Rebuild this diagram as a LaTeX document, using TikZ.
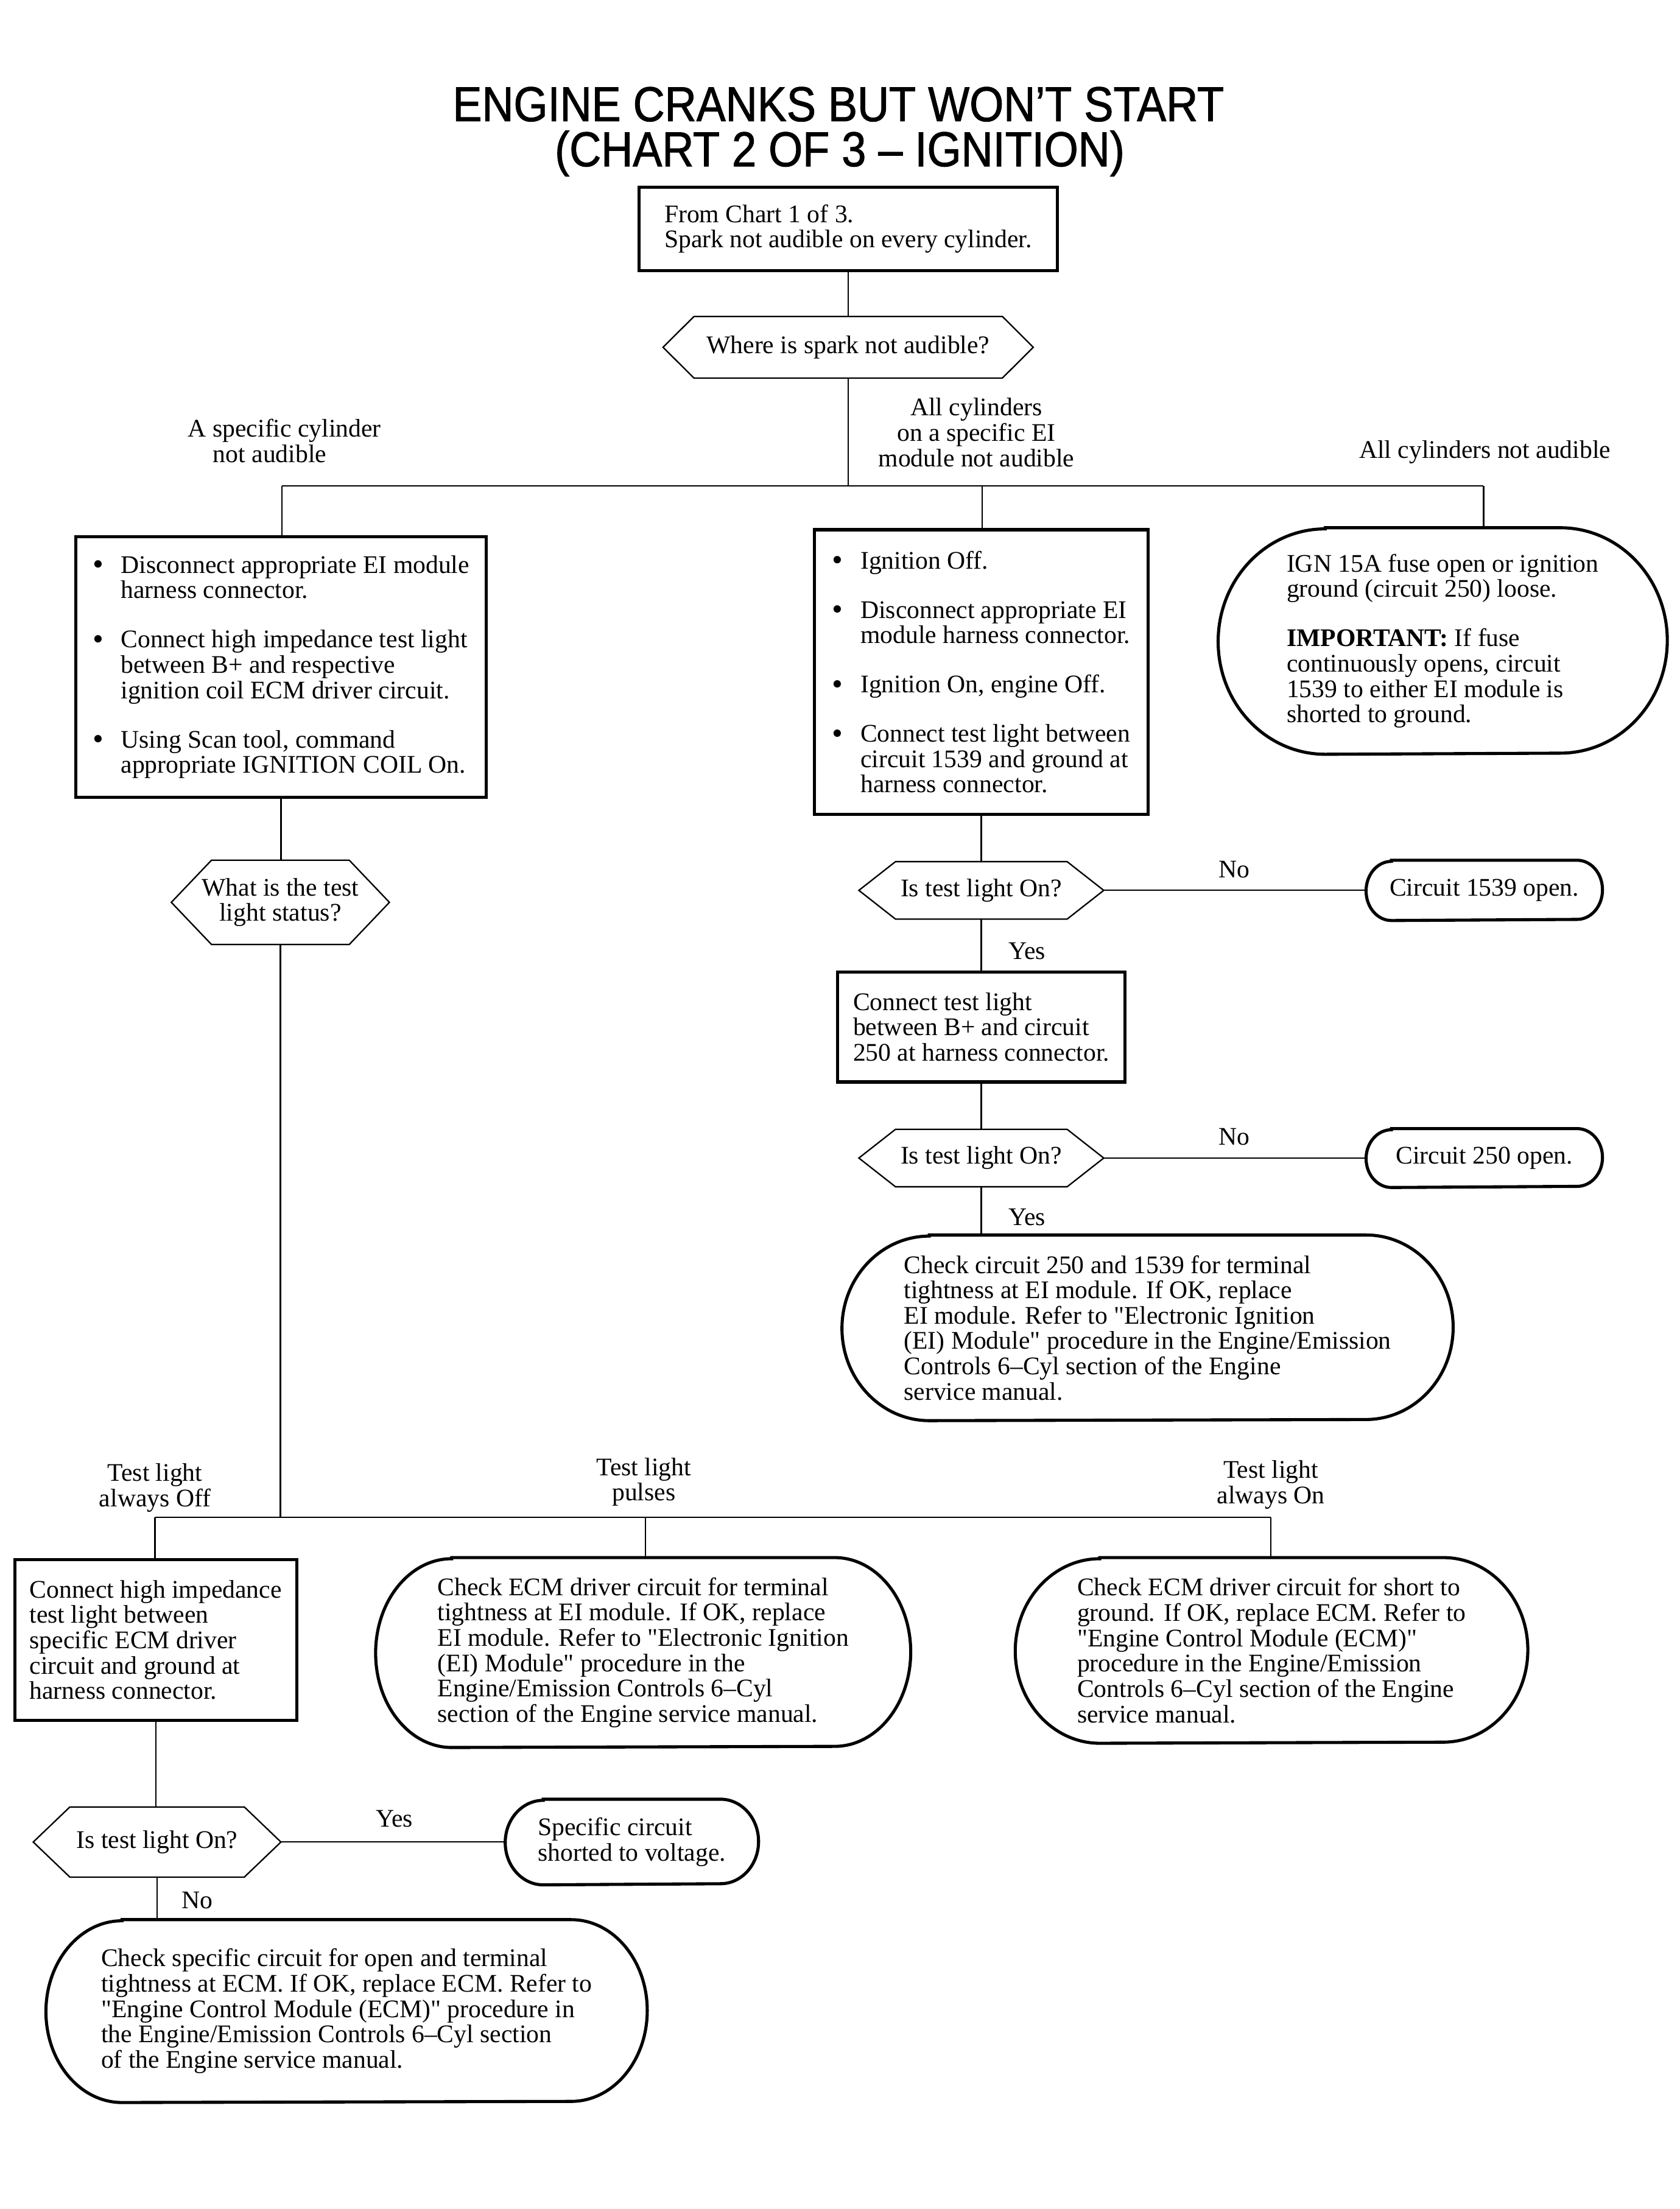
\documentclass[tikz,border=0pt]{standalone}
\usepackage{fontspec}
\newfontfamily\bodyfont{Liberation Serif}
\newfontfamily\titlefont{Liberation Sans}[FakeStretch=0.895,FakeBold=1.2]
\usetikzlibrary{calc}
% capsule outline drawn inside a node's box: node, x radius, y radius
\newcommand\capsule[3]{%
  \draw[termline] ([xshift=#2]#1.north west) -- ([xshift=-#2]#1.north east)
    arc[start angle=90,end angle=-90,x radius=#2,y radius=#3]
    -- ([xshift=#2]#1.south west)
    arc[start angle=270,end angle=90,x radius=#2,y radius=#3] -- cycle;}
% hexagon outline drawn inside a node's box: node, tip length
\newcommand\hexa[2]{%
  \draw[decline] ([xshift=#2]#1.north west) -- ([xshift=-#2]#1.north east)
    -- (#1.east) -- ([xshift=-#2]#1.south east) -- ([xshift=#2]#1.south west)
    -- (#1.west) -- cycle;}
\newcommand\bitem{\makebox[10pt][l]{\raisebox{-0.5pt}{\fontsize{11}{9}\selectfont\symbol{"2022}}}}
\newcommand\bcont{\hspace*{10pt}}
\begin{document}
\begin{tikzpicture}[x=0.5pt,y=-0.5pt,
  every node/.style={font=\bodyfont\fontsize{9}{9}\selectfont, inner sep=0pt},
  title/.style={font=\titlefont\fontsize{17.4}{17.4}\selectfont},
  rbox/.style={draw, line width=1.1pt, align=left},
  term/.style={align=left},
  dec/.style={align=center},
  lbl/.style={align=center},
  sz/.style 2 args={minimum width=#1, minimum height=#2},
  conn/.style={line width=0.5pt},
  termline/.style={line width=1.1pt},
  decline/.style={line width=0.5pt},
]
\useasboundingbox (0,0) rectangle (1192,1568);
\fill[white] (0,0) rectangle (1192,1568);

% title
\node[title, anchor=base] (t1) at (595,86) {ENGINE CRANKS BUT WON’T START};
\node[title, anchor=base] (t2) at (596,118) {(CHART 2 OF 3 – IGNITION)};

% top
\node[rbox, sz={148.5pt}{29.5pt}] (start) at (602,162.5) {From Chart 1 of 3.\\Spark not audible on every cylinder.};
\node[dec, sz={131pt}{21.5pt}] (hex1) at (602,246.5) {Where is spark not audible?};
\hexa{hex1}{11pt}

\coordinate (j1) at (602,345);
\coordinate (jA) at (200,345);
\coordinate (jB) at (697,345);
\coordinate (jC) at (1053,345);

\node[lbl] (lA) at (202,313) {A specific cylinder\\not audible\hspace*{10.5pt}};
\node[lbl] (lB) at (693,307) {All cylinders\\on a specific EI\\module not audible};
\node[lbl] (lC) at (1054,321) {All cylinders not audible};

% second row
\node[rbox, sz={145.5pt}{92.5pt}] (boxA) at (199.5,473.5) {\bitem Disconnect appropriate EI module\\\bcont harness connector.\\[8.5pt]\bitem Connect high impedance test light\\\bcont between B+ and respective\\\bcont ignition coil ECM driver circuit.\\[8.5pt]\bitem Using Scan tool, command\\\bcont appropriate IGNITION COIL On.};

\node[rbox, sz={118.5pt}{101pt}] (boxB) at (696.5,477) {\bitem Ignition Off.\\[8.5pt]\bitem Disconnect appropriate EI\\\bcont module harness connector.\\[8.5pt]\bitem Ignition On, engine Off.\\[8.5pt]\bitem Connect test light between\\\bcont circuit 1539 and ground at\\\bcont harness connector.};

\node[term, sz={159pt}{80pt}] (ign) at (1024,455) {IGN 15A fuse open or ignition\\ground (circuit 250) loose.\\[8.5pt]\textbf{IMPORTANT:} If fuse\\continuously opens, circuit\\1539 to either EI module is\\shorted to ground.};
\capsule{ign}{38pt}{40pt}

% left branch decision
\node[dec, sz={77pt}{29.5pt}] (hexA) at (199,640.5) {What is the test\\light status?};
\hexa{hexA}{14.25pt}

% middle branch
\node[dec, sz={86.5pt}{20pt}] (hexB1) at (696.5,632) {Is test light On?};
\hexa{hexB1}{13pt}
\node[term, sz={83.5pt}{21pt}] (t1539) at (1053.5,632) {Circuit 1539 open.};
\capsule{t1539}{9pt}{10.5pt}
\node[lbl] (no1) at (876,617) {No};
\node[lbl] (yes1) at (729,675) {Yes};

\node[rbox, sz={102pt}{39pt}] (boxC) at (696.5,729) {Connect test light\\between B+ and circuit\\250 at harness connector.};

\node[dec, sz={86.5pt}{20pt}] (hexB2) at (696.5,822) {Is test light On?};
\hexa{hexB2}{13pt}
\node[term, sz={83.5pt}{20.5pt}] (t250) at (1053.5,822) {Circuit 250 open.};
\capsule{t250}{9pt}{10.25pt}
\node[lbl] (no2) at (876,807) {No};
\node[lbl] (yes2) at (729,864) {Yes};

\node[term, sz={216.5pt}{65.5pt}] (chk) at (814.5,942.5) {Check circuit 250 and 1539 for terminal\\tightness at EI module. If OK, replace\\EI module. Refer to "Electronic Ignition\\(EI) Module" procedure in the Engine/Emission\\Controls 6–Cyl section of the Engine\\service manual.};
\capsule{chk}{31pt}{32.75pt}

% test light status branches
\coordinate (j2) at (199,1077);
\coordinate (jOff) at (110,1077);
\coordinate (jPul) at (458,1077);
\coordinate (jOn) at (902,1077);
\node[lbl] (lOff) at (110,1056) {Test light\\always Off};
\node[lbl] (lPul) at (457,1052) {Test light\\pulses};
\node[lbl] (lOn) at (902,1054) {Test light\\always On};

\node[rbox, sz={100pt}{57pt}] (boxD) at (110.5,1164) {Connect high impedance\\test light between\\specific ECM driver\\circuit and ground at\\harness connector.};

\node[term, sz={189.5pt}{67pt}] (pulse) at (456.5,1173) {Check ECM driver circuit for terminal\\tightness at EI module. If OK, replace\\EI module. Refer to "Electronic Ignition\\(EI) Module" procedure in the\\Engine/Emission Controls 6–Cyl\\section of the Engine service manual.};
\capsule{pulse}{27pt}{33.5pt}

\node[term, sz={181.5pt}{65.5pt}] (on) at (902.5,1171.5) {Check ECM driver circuit for short to\\ground. If OK, replace ECM. Refer to\\"Engine Control Module (ECM)"\\procedure in the Engine/Emission\\Controls 6–Cyl section of the Engine\\service manual.};
\capsule{on}{30pt}{32.75pt}

\node[dec, sz={87.5pt}{24.5pt}] (hexD) at (111.5,1307.5) {Is test light On?};
\hexa{hexD}{13pt}
\node[term, sz={89.5pt}{30pt}] (sv) at (448.5,1307.5) {Specific circuit\\shorted to voltage.};
\capsule{sv}{13.5pt}{15pt}
\node[lbl] (yes3) at (280,1291) {Yes};
\node[lbl] (no3) at (140,1349) {No};

\node[term, sz={213pt}{64.5pt}] (opn) at (246,1427.5) {Check specific circuit for open and terminal\\tightness at ECM. If OK, replace ECM. Refer to\\"Engine Control Module (ECM)" procedure in\\the Engine/Emission Controls 6–Cyl section\\of the Engine service manual.};
\capsule{opn}{27pt}{32.25pt}

% connectors
\draw[conn] (start.south) -- (start.south |- hex1.north);
\draw[conn] (hex1.south) -- (j1);
\draw[conn] (jA) -- (jC);
\draw[conn] (jA) -- (jA |- boxA.north);
\draw[conn] (jB) -- (jB |- boxB.north);
\draw[conn] (jC) -- (jC |- ign.north);
\draw[conn] (boxA.south) -- (boxA.south |- hexA.north);
\draw[conn] (hexA.south) -- (j2);
\draw[conn] (jOff) -- (jOn);
\draw[conn] (jOff) -- (jOff |- boxD.north);
\draw[conn] (jPul) -- (jPul |- pulse.north);
\draw[conn] (jOn) -- (jOn |- on.north);
\draw[conn] (boxB.south) -- (boxB.south |- hexB1.north);
\draw[conn] (hexB1.east) -- (t1539.west);
\draw[conn] (hexB1.south) -- (hexB1.south |- boxC.north);
\draw[conn] (boxC.south) -- (boxC.south |- hexB2.north);
\draw[conn] (hexB2.east) -- (t250.west);
\draw[conn] (hexB2.south) -- (hexB2.south |- chk.north);
\draw[conn] (boxD.south) -- (boxD.south |- hexD.north);
\draw[conn] (hexD.east) -- (sv.west);
\draw[conn] (hexD.south) -- (hexD.south |- opn.north);
\end{tikzpicture}
\end{document}
